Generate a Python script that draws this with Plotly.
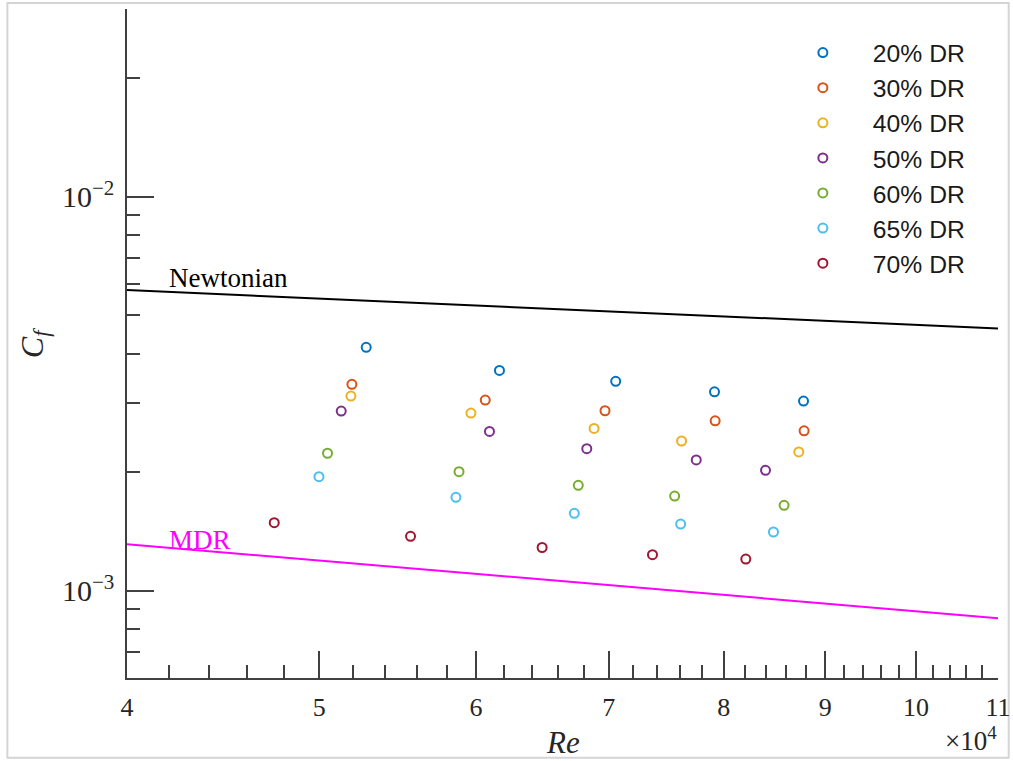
import numpy as np
import plotly.graph_objects as go

# ---------------- data ----------------
series_names = ["20% DR", "30% DR", "40% DR", "50% DR", "60% DR", "65% DR", "70% DR"]
series_colors = ["#0072BD", "#D95319", "#EDB120", "#7E2F8E", "#77AC30", "#4DBEEE", "#A2142F"]

re_20 = [5.281e4, 6.165e4, 7.056e4, 7.914e4, 8.776e4]
cf_20 = [4.148e-3, 3.625e-3, 3.400e-3, 3.199e-3, 3.030e-3]
re_30 = [5.194e4, 6.064e4, 6.969e4, 7.920e4, 8.782e4]
cf_30 = [3.341e-3, 3.048e-3, 2.863e-3, 2.700e-3, 2.546e-3]
re_40 = [5.188e4, 5.964e4, 6.881e4, 7.617e4, 8.728e4]
cf_40 = [3.120e-3, 2.825e-3, 2.582e-3, 2.399e-3, 2.250e-3]
re_50 = [5.130e4, 6.094e4, 6.823e4, 7.748e4, 8.397e4]
cf_50 = [2.858e-3, 2.537e-3, 2.293e-3, 2.147e-3, 2.021e-3]
re_60 = [5.049e4, 5.882e4, 6.756e4, 7.556e4, 8.580e4]
cf_60 = [2.233e-3, 2.005e-3, 1.851e-3, 1.739e-3, 1.647e-3]
re_65 = [4.999e4, 5.861e4, 6.725e4, 7.609e4, 8.475e4]
cf_65 = [1.947e-3, 1.726e-3, 1.572e-3, 1.476e-3, 1.409e-3]
re_70 = [4.746e4, 5.560e4, 6.478e4, 7.364e4, 8.207e4]
cf_70 = [1.488e-3, 1.374e-3, 1.287e-3, 1.234e-3, 1.203e-3]

newton_re = [4.0e4, 11.0e4]
newton_cf = [5.80e-3, 4.63e-3]
mdr_re = [4.0e4, 11.0e4]
mdr_cf = [1.312e-3, 8.51e-4]

x_major = [4, 5, 6, 7, 8, 9, 10, 11]
x_minor = [4.2, 4.4, 4.6, 4.8, 5.2, 5.4, 5.6, 5.8, 6.2, 6.4, 6.6, 6.8,
           7.2, 7.4, 7.6, 7.8, 8.2, 8.4, 8.6, 8.8, 9.2, 9.4, 9.6, 9.8,
           10.2, 10.4, 10.6, 10.8]
y_major = [1e-3, 1e-2]
y_major_text = ["10<sup>−3</sup>", "10<sup>−2</sup>"]
y_minor = [7e-4, 8e-4, 9e-4, 2e-3, 3e-3, 4e-3, 5e-3, 6e-3, 7e-3, 8e-3, 9e-3, 2e-2, 3e-2]

all_re = [re_20, re_30, re_40, re_50, re_60, re_65, re_70]
all_cf = [cf_20, cf_30, cf_40, cf_50, cf_60, cf_65, cf_70]

# ---------------- figure ----------------
W, H = 1013, 761
L, R, T, B = 126.7, 14.7, 9.0, 82.7
pw, ph = W - L - R, H - T - B

def xp(px):
    return (px - L) / pw

def yp(py):
    return (H - B - py) / ph

fig = go.Figure()

fig.add_trace(go.Scatter(x=newton_re, y=newton_cf, mode="lines",
                         line=dict(color="black", width=2), showlegend=False,
                         hoverinfo="skip"))
fig.add_trace(go.Scatter(x=mdr_re, y=mdr_cf, mode="lines",
                         line=dict(color="#FF00FF", width=2), showlegend=False,
                         hoverinfo="skip"))

for name, col, xs, ys in zip(series_names, series_colors, all_re, all_cf):
    fig.add_trace(go.Scatter(x=xs, y=ys, mode="markers", name=name,
                             marker=dict(symbol="circle-open", size=9,
                                         color=col, line=dict(width=2, color=col))))

axis_col = "#404040"
serif = "Liberation Serif, Times New Roman, serif"

fig.update_xaxes(type="log", range=[np.log10(4e4), np.log10(11e4)],
                 showline=True, linecolor=axis_col, linewidth=1.5,
                 showgrid=False, zeroline=False, mirror=False,
                 tickmode="array", tickvals=[v * 1e4 for v in x_major],
                 ticktext=[str(v) for v in x_major],
                 ticks="inside", ticklen=27, tickwidth=1.5, tickcolor=axis_col,
                 ticklabelstandoff=5,
                 tickfont=dict(family=serif, size=26, color="#262626"),
                 minor=dict(tickmode="array", tickvals=[v * 1e4 for v in x_minor],
                            ticks="inside", ticklen=13, tickwidth=1.5,
                            tickcolor=axis_col, showgrid=False))

fig.update_yaxes(type="log", range=[np.log10(6e-4), np.log10(3e-2)],
                 showline=True, linecolor=axis_col, linewidth=1.5,
                 showgrid=False, zeroline=False, mirror=False,
                 tickmode="array", tickvals=y_major, ticktext=y_major_text,
                 ticks="inside", ticklen=27, tickwidth=1.5, tickcolor=axis_col,
                 ticklabelstandoff=5,
                 tickfont=dict(family=serif, size=30, color="#262626"),
                 minor=dict(tickmode="array", tickvals=y_minor,
                            ticks="inside", ticklen=13, tickwidth=1.5,
                            tickcolor=axis_col, showgrid=False))

annotations = [
    dict(text="Newtonian", x=np.log10(4.19e4), y=np.log10(6.22e-3), xref="x", yref="y",
         xanchor="left", yanchor="middle", showarrow=False,
         font=dict(family=serif, size=27, color="black")),
    dict(text="MDR", x=np.log10(4.19e4), y=np.log10(1.345e-3), xref="x", yref="y",
         xanchor="left", yanchor="middle", showarrow=False,
         font=dict(family=serif, size=27, color="#FF00FF")),
    dict(text="<i>Re</i>", x=xp(563), y=yp(743), xref="paper", yref="paper",
         xanchor="center", yanchor="middle", showarrow=False,
         font=dict(family=serif, size=31, color="#262626")),
    dict(text="×10<sup>4</sup>", x=xp(999), y=yp(739), xref="paper", yref="paper",
         xanchor="right", yanchor="middle", showarrow=False,
         font=dict(family=serif, size=27, color="#262626")),
    dict(text="<i>C</i><sub><i>f</i></sub>", x=xp(34), y=yp(343), xref="paper", yref="paper",
         xanchor="center", yanchor="middle", showarrow=False, textangle=-90,
         font=dict(family=serif, size=32, color="#262626")),
]

shapes = [
    dict(type="rect", xref="paper", yref="paper",
         x0=xp(7), x1=xp(1009), y0=yp(758), y1=yp(3),
         line=dict(color="#d4d4d4", width=2), fillcolor="rgba(0,0,0,0)", layer="below"),
]

fig.update_layout(
    width=W, height=H,
    margin=dict(l=L, r=R, t=T, b=B, pad=0, autoexpand=False),
    paper_bgcolor="white", plot_bgcolor="white",
    showlegend=True,
    legend=dict(x=xp(773), y=yp(30), xanchor="left", yanchor="top",
                bgcolor="rgba(0,0,0,0)", borderwidth=0,
                itemwidth=90,
                font=dict(family="Liberation Sans, Arial, sans-serif", size=24.7, color="#1a1a1a")),
    annotations=annotations,
    shapes=shapes,
)

fig.write_html("out.html")
